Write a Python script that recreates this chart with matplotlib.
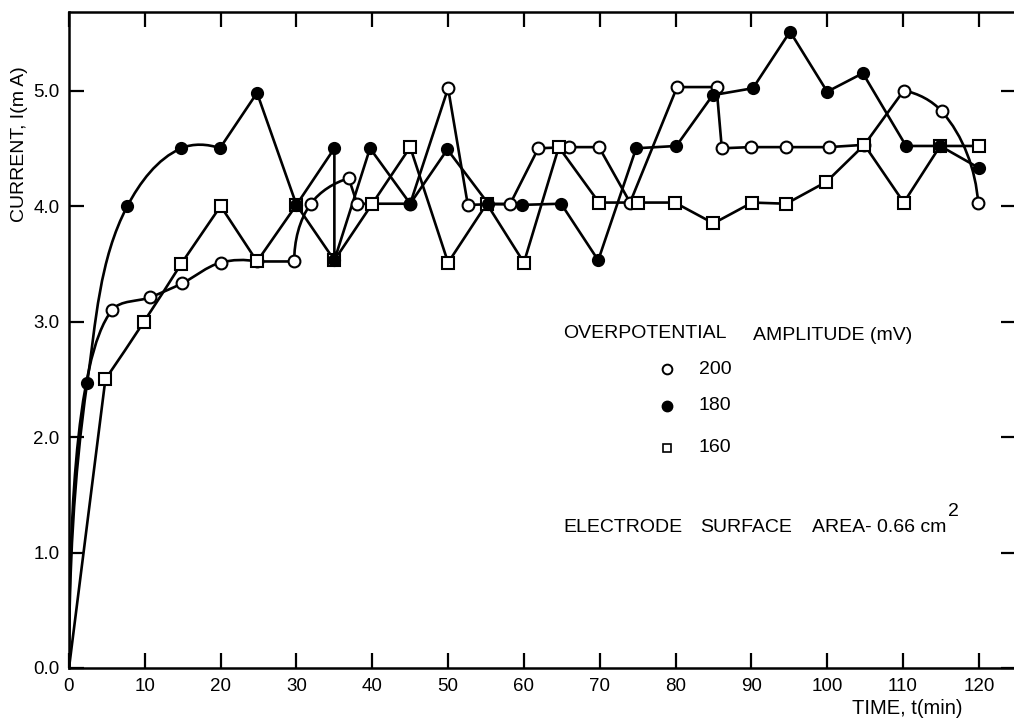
import numpy as np
import matplotlib
matplotlib.use("Agg")
import matplotlib.pyplot as plt
from matplotlib.path import Path
from matplotlib.patches import PathPatch
from matplotlib.lines import Line2D

# ---------------- data ----------------
t_200 = [0, 5.7, 10.7, 14.9, 20.0, 24.8, 29.7, 31.9, 36.9, 38.0, 45.0, 50.0, 52.6,
         58.2, 61.9, 65.9, 69.9, 74.0, 80.2, 85.4, 86.1, 89.9, 94.6, 100.2, 104.9,
         110.1, 115.1, 119.9]
i_200 = [0, 3.10, 3.21, 3.33, 3.51, 3.52, 3.52, 4.02, 4.24, 4.02, 4.02, 5.02, 4.01,
         4.02, 4.50, 4.51, 4.51, 4.03, 5.03, 5.03, 4.50, 4.51, 4.51, 4.51, 4.53,
         5.00, 4.82, 4.03]

t_180 = [0, 2.4, 7.7, 14.8, 19.9, 24.8, 30.0, 35.0, 35.0, 39.7, 45.0, 49.9, 55.3,
         59.8, 64.9, 69.8, 74.8, 80.1, 84.9, 90.2, 95.1, 100.0, 104.7, 110.4, 114.9, 120.0]
i_180 = [0, 2.47, 4.00, 4.50, 4.50, 4.98, 4.01, 4.50, 3.53, 4.50, 4.02, 4.49, 4.02,
         4.01, 4.02, 3.53, 4.50, 4.52, 4.96, 5.02, 5.51, 4.99, 5.15, 4.52, 4.52, 4.33]

t_160 = [0, 4.8, 9.9, 14.8, 20.0, 24.8, 30.0, 35.0, 40.0, 45.0, 50.0, 55.1, 60.0,
         64.6, 69.9, 75.0, 79.9, 85.0, 90.1, 94.6, 99.9, 104.9, 110.1, 114.9, 120.0]
i_160 = [0, 2.50, 3.00, 3.50, 4.00, 3.52, 4.01, 3.53, 4.02, 4.51, 3.51, 4.02, 3.51,
         4.51, 4.03, 4.03, 4.03, 3.85, 4.03, 4.02, 4.21, 4.53, 4.03, 4.52, 4.52]

# index ranges of each series drawn as a smooth (hand-drawn) curve
smooth_200 = [(0, 5), (6, 8), (25, 27)]
smooth_180 = [(0, 4)]
smooth_160 = [(1, 3)]

legend_labels = ["200", "180", "160"]
x_ticks = list(range(0, 121, 10))
y_ticks = [0, 1, 2, 3, 4, 5]
y_ticklabels = ["0.0", "1.0", "2.0", "3.0", "4.0", "5.0"]

# ---------------- figure ----------------
W, H = 1014, 719
fig = plt.figure(figsize=(W / 100, H / 100), dpi=100)
ax_l, ax_r, ax_t, ax_b = 69, 1016, 12, 668
ax = fig.add_axes([ax_l / W, 1 - ax_b / H, (ax_r - ax_l) / W, (ax_b - ax_t) / H])
XMAX, YMAX = 124.9, 5.68
ax.set_xlim(0, XMAX)
ax.set_ylim(0, YMAX)
sx = (ax_r - ax_l) / XMAX
sy = (ax_b - ax_t) / YMAX

TICKFONT = ["Liberation Sans", "DejaVu Sans"]
TEXTFONT = ["Liberation Sans", "DejaVu Sans"]


def unit(v):
    n = np.hypot(v[0], v[1])
    return v / n if n > 0 else v


def build_path(xs, ys, ranges):
    P = np.column_stack([np.asarray(xs, float) * sx, np.asarray(ys, float) * sy])
    n = len(P)
    seg_tan = {}
    for a, b in ranges:
        T = {}
        for i in range(a + 1, b):
            T[i] = unit(unit(P[i] - P[i - 1]) + unit(P[i + 1] - P[i]))
        if b - a >= 2:
            T[a] = unit(2 * unit(P[a + 1] - P[a]) - T[a + 1])
            T[b] = unit(2 * unit(P[b] - P[b - 1]) - T[b - 1])
        else:
            T[a] = unit(P[b] - P[a])
            T[b] = T[a]
        for k in T:
            if T[k][0] < 0:
                T[k] = unit(np.array([0.0, T[k][1]]))
        for i in range(a, b):
            seg_tan[i] = (T[i], T[i + 1])
    verts = [P[0]]
    codes = [Path.MOVETO]
    for i in range(n - 1):
        if i in seg_tan:
            t0, t1 = seg_tan[i]
            d = np.hypot(*(P[i + 1] - P[i]))
            dx = P[i + 1][0] - P[i][0]
            L0 = d / 3
            L1 = d / 3
            if t0[0] > 1e-9:
                L0 = min(L0, 0.9 * dx / t0[0])
            if t1[0] > 1e-9:
                L1 = min(L1, 0.9 * dx / t1[0])
            verts += [P[i] + L0 * t0, P[i + 1] - L1 * t1, P[i + 1]]
            codes += [Path.CURVE4] * 3
        else:
            verts.append(P[i + 1])
            codes.append(Path.LINETO)
    V = np.array(verts)
    V[:, 0] /= sx
    V[:, 1] /= sy
    return Path(V, codes)


LW = 1.9
for xs, ys, rng in [(t_200, i_200, smooth_200), (t_180, i_180, smooth_180),
                    (t_160, i_160, smooth_160)]:
    ax.add_patch(PathPatch(build_path(xs, ys, rng), facecolor="none",
                           edgecolor="black", lw=LW, zorder=2, capstyle="round",
                           joinstyle="round"))

mk = dict(linestyle="none", mec="black", mew=1.5, clip_on=False)
ax.plot(t_200, i_200, marker="o", ms=8.5, mfc="white", markevery=slice(1, None),
        zorder=3, **mk)
ax.plot(t_160, i_160, marker="s", ms=8, mfc="white", markevery=slice(1, None),
        zorder=4, **mk)
ax.plot(t_180, i_180, marker="o", ms=8, mfc="black", markevery=slice(1, None),
        zorder=5, **mk)

# ---------------- axes styling ----------------
for s in ax.spines.values():
    s.set_linewidth(1.8)
ax.set_xticks(x_ticks)
ax.set_xticklabels([str(v) for v in x_ticks])
ax.set_yticks(y_ticks)
ax.set_yticklabels(y_ticklabels)
ax.tick_params(direction="in", length=11, width=1.6, top=True, right=True,
               labelsize=13.5, colors="black")
ax.tick_params(axis="x", pad=7)
ax.tick_params(axis="y", pad=7)
for lab in ax.get_xticklabels() + ax.get_yticklabels():
    lab.set_family(TICKFONT)


def ftext(px, py, s, **kw):
    kw.setdefault("family", TEXTFONT)
    kw.setdefault("fontsize", 14)
    kw.setdefault("va", "center")
    kw.setdefault("ha", "left")
    fig.text(px / W, 1 - py / H, s, **kw)


# axis labels
ftext(20, 144, "CURRENT, I(m A)", rotation=90, ha="center")
ftext(852, 708, "TIME, t(min)", fontsize=14.5)

# legend
ftext(563, 333, "OVERPOTENTIAL")
ftext(753, 335, "AMPLITUDE (mV)")
leg_y = [369, 406, 448]
leg_style = [dict(marker="o", ms=7, mfc="white", mew=1.4),
             dict(marker="o", ms=7.5, mfc="black", mew=1.0),
             dict(marker="s", ms=6, mfc="white", mew=1.2)]
for yy, lab, st in zip(leg_y, legend_labels, leg_style):
    fig.add_artist(Line2D([667 / W], [1 - yy / H], linestyle="none", mec="black",
                          transform=fig.transFigure, **st))
    ftext(699, yy, lab, family=TICKFONT, fontsize=14)

# electrode note
ftext(563, 528, "ELECTRODE")
ftext(700, 528, "SURFACE")
ftext(812, 528, "AREA- 0.66 cm")
ftext(948, 511, "2")

fig.savefig("out.png", dpi=100)
